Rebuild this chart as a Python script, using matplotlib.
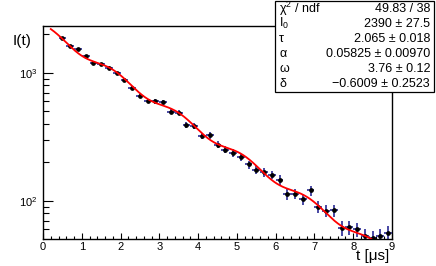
import numpy as np
import matplotlib
matplotlib.use("Agg")
import matplotlib.pyplot as plt
from matplotlib.ticker import MultipleLocator, LogLocator, NullFormatter
from matplotlib.patches import Rectangle

plt.rcParams['font.family'] = ['Liberation Sans', 'DejaVu Sans']
plt.rcParams['mathtext.default'] = 'regular'

# bin centres (us) and counts
t = [0.5, 0.7, 0.9, 1.1, 1.3, 1.5, 1.7, 1.9, 2.1, 2.3, 2.5, 2.7, 2.9, 3.1, 3.3,
     3.5, 3.7, 3.9, 4.1, 4.3, 4.5, 4.7, 4.9, 5.1, 5.3, 5.5, 5.7, 5.9, 6.1, 6.3,
     6.5, 6.7, 6.9, 7.1, 7.3, 7.5, 7.7, 7.9, 8.1, 8.3, 8.5, 8.7, 8.9]
counts = [1855, 1614, 1528, 1346, 1194, 1166, 1091, 991, 878, 756, 662, 601, 598,
          590, 499, 490, 394, 385, 324, 325, 275, 251, 237, 219, 193, 176, 167,
          160, 146, 113, 114, 103, 121, 89.8, 84, 84.6, 61.4, 62.2, 60, 53.1,
          51.6, 53.1, 56.4]
bin_half = 0.1

stat_names = ["$\\chi^2$ / ndf", "I$_0$", "\u03c4", "\u03b1", "\u03c9", "\u03b4"]
stat_values = ["49.83 / 38", "2390 \u00b1 27.5", "2.065 \u00b1 0.018",
               "0.05825 \u00b1 0.00970", "3.76 \u00b1 0.12", "\u22120.6009 \u00b1 0.2523"]

alpha, omega, delta = 0.05825, 3.76, -0.6009

t = np.array(t)
counts = np.array(counts)

# fit I0 and tau with the oscillation terms fixed
osc = np.log(1 + alpha * np.cos(omega * t + delta))
slope, icpt = np.polyfit(t, np.log(counts) - osc, 1, w=np.sqrt(counts))


def model(x):
    return np.exp(icpt + slope * x) * (1 + alpha * np.cos(omega * x + delta))


fig = plt.figure(figsize=(4.36, 2.66), dpi=100)
ax = fig.add_axes([43 / 436, 27 / 266, 349 / 436, 213 / 266])

ax.errorbar(t, counts, xerr=bin_half, yerr=np.sqrt(counts), fmt='none',
            ecolor='#2a2a95', elinewidth=1.2, capsize=0, zorder=2)
ax.plot(t, counts, 'o', color='black', markersize=2.4, zorder=3)

xs = np.linspace(0.2, 9.0, 600)
ax.plot(xs, model(xs), color='#ff0000', lw=1.3, zorder=4)

ax.set_yscale('log')
ax.set_xlim(0, 9)
ax.set_ylim(50.5, 2320)

ax.xaxis.set_major_locator(MultipleLocator(1))
ax.xaxis.set_minor_locator(MultipleLocator(0.2))
ax.set_yticks([100, 1000], labels=["10$^{2}$", "10$^{3}$"])
ax.yaxis.set_minor_locator(LogLocator(base=10, subs=range(2, 10)))
ax.yaxis.set_minor_formatter(NullFormatter())

ax.tick_params(which='both', direction='in', top=False, right=False, labelsize=8)
ax.tick_params(axis='x', which='major', length=4, width=0.8, pad=2.5)
ax.tick_params(axis='x', which='minor', length=2, width=0.8)
ax.tick_params(axis='y', which='major', length=7.5, width=0.8, pad=4)
ax.tick_params(axis='y', which='minor', length=4.3, width=0.8)
for sp in ax.spines.values():
    sp.set_linewidth(1.0)

fig.text(13 / 436, 1 - 41 / 266, "I(t)", fontsize=11, ha='left', va='center')
fig.text(389 / 436, 1 - 256 / 266, "t [\u03bcs]", fontsize=11, ha='right', va='center')

# stat box
bx0, by0, bx1, by1 = 275, 1, 434, 92
fig.patches.append(Rectangle((bx0 / 436, 1 - by1 / 266), (bx1 - bx0) / 436,
                             (by1 - by0) / 266, transform=fig.transFigure,
                             facecolor='white', edgecolor='black', lw=0.9, zorder=10))
row_h = (by1 - by0) / len(stat_names)
for i, (name, val) in enumerate(zip(stat_names, stat_values)):
    yc = by0 + row_h * (i + 0.5)
    fig.text((bx0 + 4) / 436, 1 - yc / 266, name, fontsize=9, ha='left', va='center', zorder=11)
    fig.text((bx1 - 4) / 436, 1 - yc / 266, val, fontsize=9, ha='right', va='center', zorder=11)

fig.savefig("out.png", dpi=100)
